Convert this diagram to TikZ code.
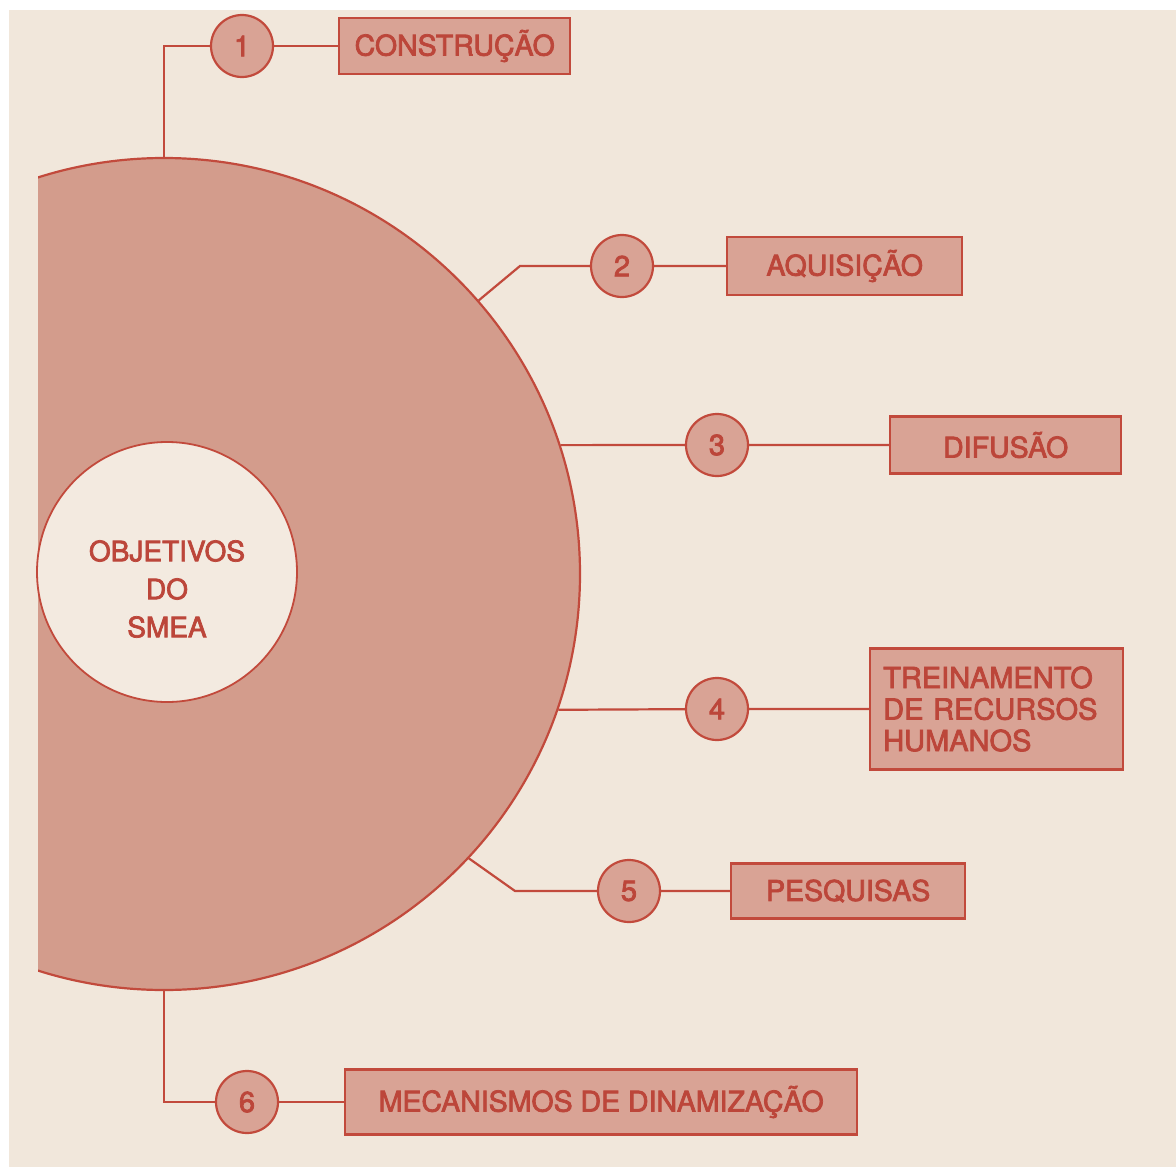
\documentclass[tikz,border=0pt]{standalone}
\usepackage{fontspec}
\setmainfont{TeX Gyre Heros}[FakeBold=2.6]
\usepackage{xcolor}
\usetikzlibrary{positioning}

\definecolor{papel}{HTML}{F1E7DB}
\definecolor{disco}{HTML}{D39C8C}
\definecolor{caixa}{HTML}{D9A395}
\definecolor{linha}{HTML}{C24A3C}
\definecolor{texto}{HTML}{BC463A}
\definecolor{miolo}{HTML}{F3EAE0}

\tikzset{
  num/.style={circle, draw=linha, fill=caixa, line width=2.2pt, minimum size=62pt,
    inner sep=0pt, text=texto, font=\fontsize{29}{29}\selectfont},
  rotulo/.style={rectangle, draw=linha, fill=caixa, line width=2.2pt, minimum height=56pt,
    inner sep=0pt, text=texto, font=\fontsize{28.5}{31.5}\selectfont},
  liga/.style={draw=linha, line width=2.2pt}
}

\begin{document}
\begin{tikzpicture}[x=1pt,y=-1pt]
            \useasboundingbox (0,0) rectangle (1176,1167);
            \fill[white] (0,0) rectangle (1176,1167);
            \fill[papel] (9,10) rectangle (1176,1167);
            % big half disc, cut on the left
            \begin{scope}
                \clip (38,0) rectangle (1176,1167);
                \draw node[circle, draw=linha, fill=disco, line width=2.2pt,
                     minimum size=832pt, inner sep=0pt] (disco) at (164,574) {} ;
            \end{scope}
            \draw node[circle, draw=linha, fill=miolo, line width=1.8pt,
                 minimum size=260pt, inner sep=0pt] (miolo) at (167,572) {} ;
            \draw node[align=center, text=texto, font=\fontsize{28}{38}\selectfont]
                 (smea) at (167,589) {OBJETIVOS\\DO\\SMEA} ;
            % numbered circles and their boxes
            \draw node[num] (c1) at (242,46) {1} ;
            \draw node[num] (c2) at (622,266) {2} ;
            \draw node[num] (c3) at (717,445) {3} ;
            \draw node[num] (c4) at (717,709) {4} ;
            \draw node[num] (c5) at (629,891) {5} ;
            \draw node[num] (c6) at (247,1102) {6} ;
            \draw node[rotulo, minimum width=231pt, right=64pt of c1] (b1) {CONSTRUÇÃO} ;
            \draw node[rotulo, minimum width=235pt, minimum height=58pt, right=72pt of c2] (b2) {AQUISIÇÃO} ;
            \draw node[rotulo, minimum width=231pt, minimum height=57pt, right=140pt of c3] (b3) {DIFUSÃO} ;
            \draw node[rotulo, minimum width=253pt, minimum height=121pt, text width=227pt,
                 align=left, font=\fontsize{29}{31.5}\selectfont, right=120pt of c4] (b4)
                 {TREINAMENTO\\DE RECURSOS\\HUMANOS} ;
            \draw node[rotulo, minimum width=234pt, minimum height=55pt, right=69pt of c5] (b5) {PESQUISAS} ;
            \draw node[rotulo, minimum width=512pt, minimum height=65pt, right=65pt of c6] (b6)
                 {MECANISMOS DE DINAMIZAÇÃO} ;
            % connectors
            \coordinate (k2) at (520,266) ;
            \coordinate (k5) at (515,891) ;
            \draw[liga] (disco.north) |- (c1) -- (b1) ;
            \draw[liga] (disco.41) -- (k2) -- (c2) -- (b2) ;
            \draw[liga] (disco.18) -- (c3) -- (b3) ;
            \draw[liga] (disco.-19) -- (c4) -- (b4) ;
            \draw[liga] (disco.-43) -- (k5) -- (c5) -- (b5) ;
            \draw[liga] (disco.south) |- (c6) -- (b6) ;
        \end{tikzpicture}
\end{document}
